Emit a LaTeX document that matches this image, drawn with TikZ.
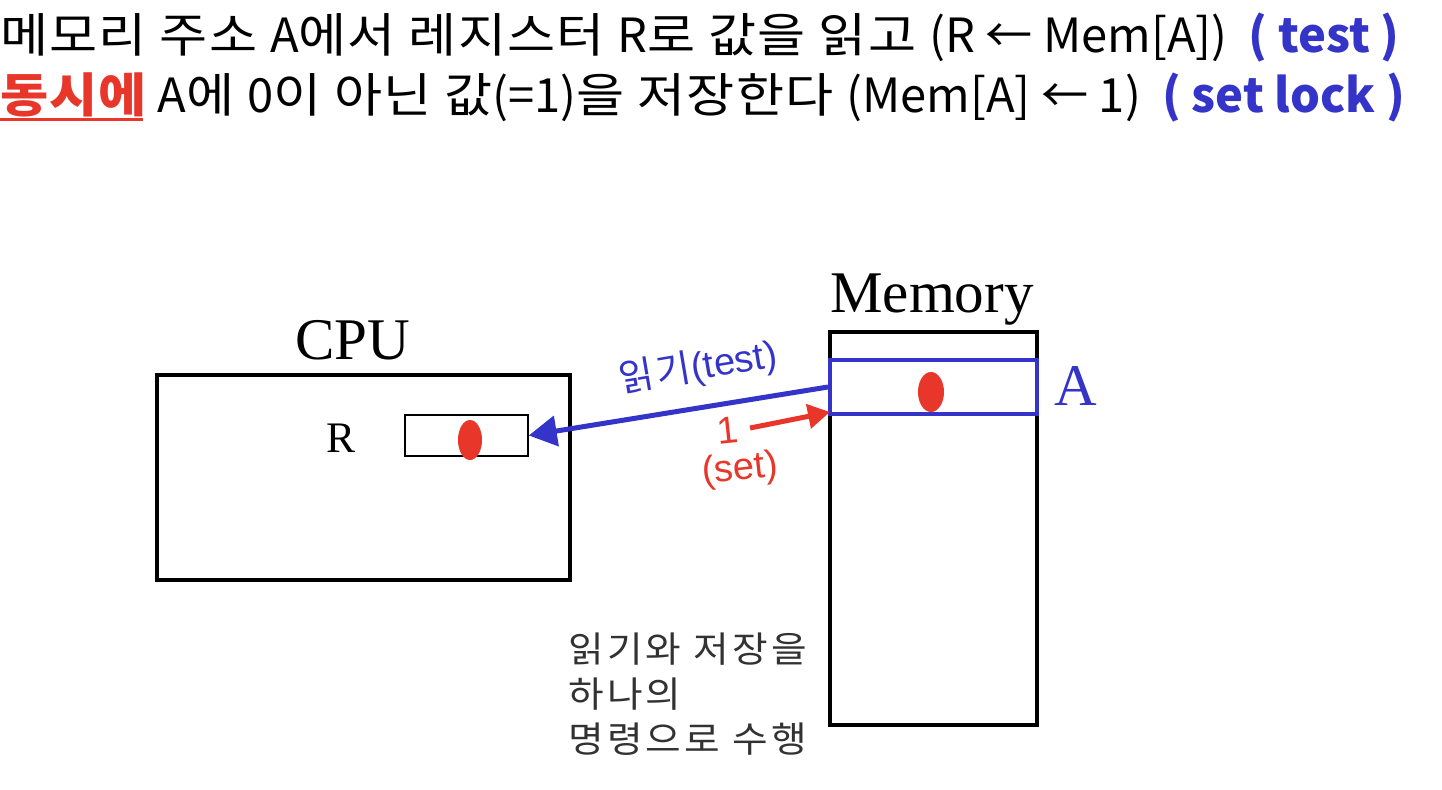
\documentclass[tikz,border=0pt]{standalone}
\usepackage{fontspec}
\usetikzlibrary{shapes.geometric,arrows.meta}
\newfontfamily\kr{Noto Sans CJK KR}
\newfontfamily\krw[FakeStretch=1.11,LetterSpace=2.5]{Noto Sans CJK KR}
\newfontfamily\krn[FakeStretch=1.08,LetterSpace=9]{Noto Sans CJK KR}
\newfontfamily\krl[LetterSpace=8]{Noto Sans CJK KR}
\newfontfamily\tms{Liberation Serif}
\newfontfamily\ari{Liberation Sans}
\definecolor{myblue}{RGB}{52,52,200}
\definecolor{myred}{RGB}{232,55,42}
\definecolor{mygray}{RGB}{50,50,50}
\def\px{0.25mm}
\begin{document}
\begin{tikzpicture}[x=0.25mm,y=-0.25mm,
  topline/.style={anchor=west,inner sep=0pt,font=\kr\fontsize{33.5}{40}\selectfont},
  bigbox/.style={draw=black,line width=4*\px,minimum width=#1*\px},
  serif/.style={inner sep=0pt,font=\tms\fontsize{42}{48}\selectfont},
  dot/.style={ellipse,fill=myred,inner sep=0pt,minimum width=24*\px,minimum height=40*\px},
  lbl/.style={inner sep=0pt,font=\ari\fontsize{27}{32}\selectfont}
]
\useasboundingbox (0,0) rectangle (1442,790);
% top text
\node[topline] (l1) at (0,38) {{\krw 메모리 주소 }A{\krw 에서 레지스터 }R{\krw 로 값을 읽고 }(R ← Mem[A])\ \ \textcolor{myblue}{\bfseries ( test )}};
\node[topline] (l2) at (0,97) {\textcolor{myred}{\krw\bfseries 동시에} A{\krw 에 }0{\krw 이 아닌 값}(=1){\krw 을 저장한다 }(Mem[A] ← 1)\ \ \textcolor{myblue}{\bfseries ( set lock )}};
\coordinate (u1) at (0,120);
\coordinate (u2) at (143,120);
\draw[myred,line width=3*\px] (u1) -- (u2);
% CPU
\node[bigbox=413,minimum height=205*\px] (cpu) at (363.5,477.5) {};
\node[serif] (cpulbl) at (353,340) {CPU};
\node[draw=black,line width=1.5*\px,minimum width=123*\px,minimum height=41*\px] (reg) at (466.5,435.5) {};
\node[serif,font=\tms\fontsize{31}{34}\selectfont] (rlbl) at (341,438) {R};
\node[dot] (rdot) at (470,440) {};
% Memory
\node[bigbox=207,minimum height=393*\px] (mem) at (933.5,528.5) {};
\node[serif] (memlbl) at (932,300) {Memory};
\node[draw=myblue,line width=4*\px,minimum width=207*\px,minimum height=54*\px] (abox) at (933.5,387) {};
\node[dot,minimum width=26*\px] (adot) at (931,392) {};
\node[serif,text=myblue] (albl) at (1076,386) {A};
% arrows
\draw[myblue,line width=5*\px,-{Triangle[length=28*\px,width=30*\px]}] (abox.west) -- (reg.east);
\node[lbl,text=myblue,rotate=9.5] (tlbl) at (698,368) {{\krl 읽기}(test)};
\coordinate (s1) at (750,428);
\coordinate (s2) at (830,412);
\draw[myred,line width=5*\px,-{Triangle[length=22*\px,width=24*\px]}] (s1) -- (s2);
\node[lbl,text=myred,rotate=6] (one) at (728,430) {1};
\node[lbl,text=myred,rotate=6] (set) at (740,470) {(set)};
% bottom note
\node[anchor=north west,inner sep=0pt,align=left,text=mygray,font=\krn\fontsize{25.5}{32}\selectfont] (note) at (568,633) {읽기와 저장을\\하나의\\명령으로 수행};
\end{tikzpicture}
\end{document}
